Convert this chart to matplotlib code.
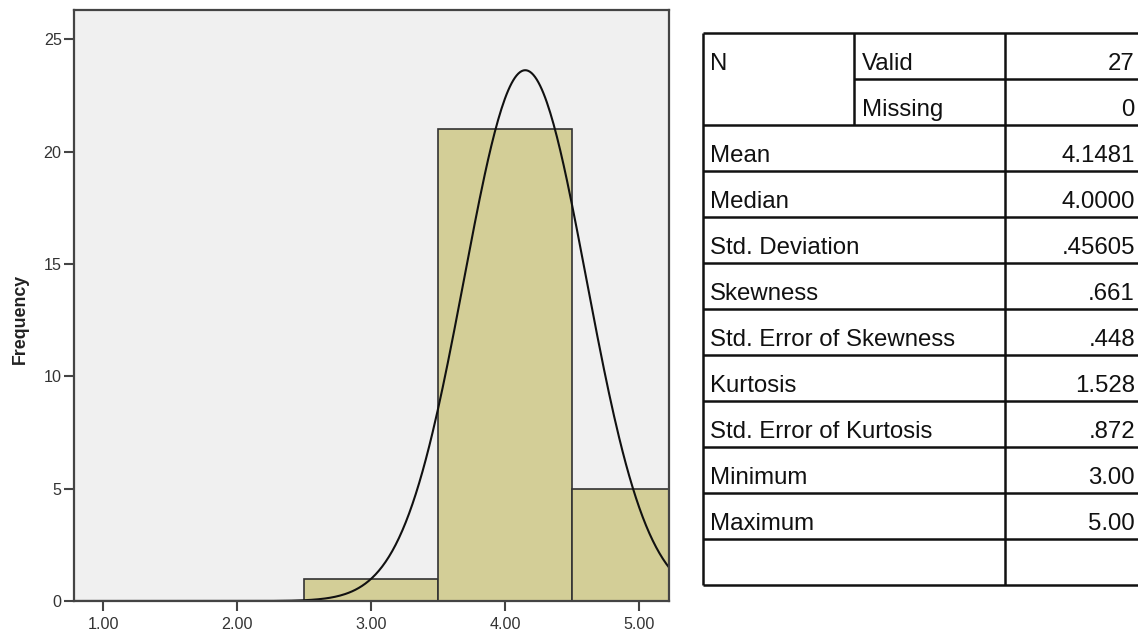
import numpy as np
import matplotlib
matplotlib.use('Agg')
import matplotlib.pyplot as plt

# Données de l'histogramme (centres des classes et effectifs)
bin_centers = [1, 2, 3, 4, 5]
counts = [0, 0, 1, 21, 5]
x_ticks = [1, 2, 3, 4, 5]
x_tick_labels = ['1.00', '2.00', '3.00', '4.00', '5.00']
y_ticks = [0, 5, 10, 15, 20, 25]

# Statistiques du tableau
n_valid = 27
mean = 4.1481
std = 0.45605
stat_labels = ['Mean', 'Median', 'Std. Deviation', 'Skewness', 'Std. Error of Skewness',
               'Kurtosis', 'Std. Error of Kurtosis', 'Minimum', 'Maximum', '']
stat_values = ['4.1481', '4.0000', '.45605', '.661', '.448', '1.528', '.872', '3.00', '5.00', '']
n_labels = ['Valid', 'Missing']
n_values = ['27', '0']

W, H = 1138, 633
fig = plt.figure(figsize=(W / 100, H / 100), dpi=100)
fig.patch.set_facecolor('white')

# Histogramme
ax = fig.add_axes([73.5 / W, 32 / H, 595.5 / W, 591.5 / H])
ax.set_facecolor('#F0F0F0')
ax.bar(bin_centers, counts, width=1.0, color='#D3CE97', edgecolor='#333333', linewidth=1.2, zorder=2)

# Courbe normale ajustée
xs = np.linspace(0.5, 5.5, 400)
ys = n_valid * 1.0 * np.exp(-0.5 * ((xs - mean) / std) ** 2) / (std * np.sqrt(2 * np.pi))
ax.plot(xs, ys, color='#111111', linewidth=1.5, zorder=3)

ax.set_xlim(0.78, 5.22)
ax.set_ylim(0, 26.32)
ax.set_xticks(x_ticks)
ax.set_xticklabels(x_tick_labels)
ax.set_yticks(y_ticks)
ax.tick_params(direction='out', length=7, width=1.5, color='#444444',
               labelsize=11.6, labelcolor='#333333')
ax.tick_params(axis='x', pad=4.5)
ax.tick_params(axis='y', pad=1.5)
for lab in ax.get_xticklabels() + ax.get_yticklabels():
    lab.set_family('Liberation Sans')
for s in ax.spines.values():
    s.set_color('#444444')
    s.set_linewidth(1.6)
    s.set_zorder(4)

fig.text(20 / W, 1 - 319 / H, 'Frequency', rotation=90, ha='center', va='center',
         fontsize=12.8, fontweight='bold', family='Liberation Sans', color='#222222')

# Tableau des statistiques (coordonnées en pixels)
tab = fig.add_axes([0, 0, 1, 1])
tab.set_xlim(0, W)
tab.set_ylim(H, 0)
tab.axis('off')

x_left, x_mid, x_val, x_right = 703, 854, 1005, W + 5
top, row_h = 33, 46
n_rows = len(n_labels) + len(stat_labels)
bottom = top + n_rows * row_h
lw = 1.8
tcol = '#111111'
fs = 17.3

tab.vlines([x_left, x_val], top, bottom, color=tcol, linewidth=lw)
tab.vlines(x_mid, top, top + 2 * row_h, color=tcol, linewidth=lw)
tab.hlines(top, x_left, x_right, color=tcol, linewidth=lw)
tab.hlines(top + row_h, x_mid, x_right, color=tcol, linewidth=lw)
for i in range(2, n_rows + 1):
    tab.hlines(top + i * row_h, x_left, x_right, color=tcol, linewidth=lw)

tab.text(x_left + 7, top + 37, 'N', fontsize=fs, family='Liberation Sans', color=tcol, va='baseline')
for i, (lab, val) in enumerate(zip(n_labels, n_values)):
    y = top + i * row_h + 37
    tab.text(x_mid + 8, y, lab, fontsize=fs, family='Liberation Sans', color=tcol, va='baseline')
    tab.text(1135, y, val, fontsize=fs, family='Liberation Sans', color=tcol, va='baseline', ha='right')

for i, (lab, val) in enumerate(zip(stat_labels, stat_values)):
    y = top + (i + 2) * row_h + 37
    tab.text(x_left + 7, y, lab, fontsize=fs, family='Liberation Sans', color=tcol, va='baseline')
    tab.text(1135, y, val, fontsize=fs, family='Liberation Sans', color=tcol, va='baseline', ha='right')

fig.savefig('out.png', dpi=100)
